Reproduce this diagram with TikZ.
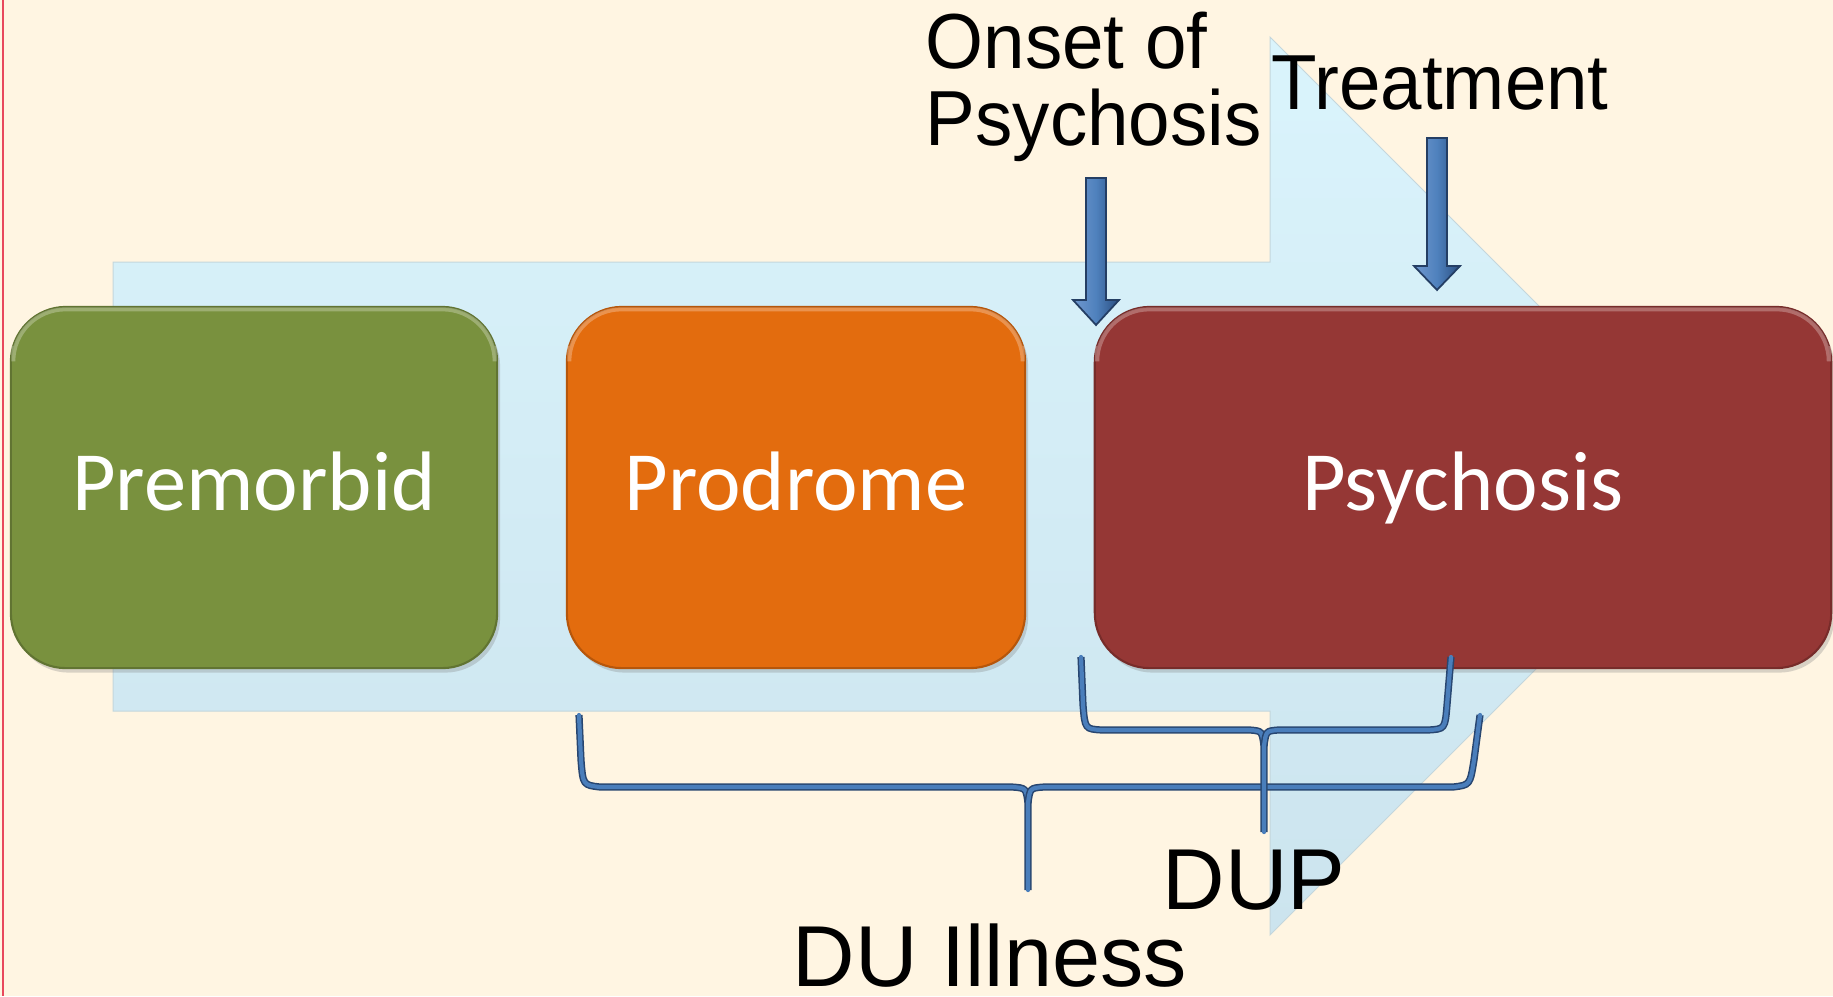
\documentclass[tikz,border=0pt]{standalone}
\usepackage{fontspec}
\newfontfamily\calfont{Carlito}
\newfontfamily\arialfont[FakeStretch=0.955]{Liberation Sans}
\newfontfamily\arialwide{Liberation Sans}
\usetikzlibrary{shadows,calc}
\definecolor{bgcream}{RGB}{255,245,226}
\definecolor{leftred}{RGB}{232,72,92}
\definecolor{skytop}{RGB}{218,244,252}
\definecolor{skybot}{RGB}{204,228,238}
\definecolor{skyedge}{RGB}{196,214,220}
\definecolor{pmgreen}{RGB}{121,145,62}
\definecolor{pdorange}{RGB}{227,108,14}
\definecolor{psred}{RGB}{149,55,53}
\definecolor{arrowlight}{RGB}{112,152,206}
\definecolor{arrowmid}{RGB}{79,129,189}
\definecolor{arrowdark}{RGB}{42,78,128}
\definecolor{arrowedge}{RGB}{36,62,100}
\definecolor{braceblue}{RGB}{74,126,187}
\definecolor{bracedark}{RGB}{40,70,112}
\tikzset{
  phase/.style={rectangle, rounded corners=0.55cm, minimum height=3.61cm,
    text=white, font=\calfont\fontsize{24}{28}\selectfont,
    text height=13pt, text depth=0pt, inner sep=0pt, line width=0.6pt,
    drop shadow={opacity=0.3, shadow xshift=0.03cm, shadow yshift=-0.045cm}},
  gloss/.style={line width=0.04cm, rounded corners=0.52cm, opacity=0.45},
  blockdown/.style={draw=arrowedge, line width=0.5pt, left color=arrowlight,
    right color=arrowdark, middle color=arrowmid},
  brace/.style={line width=0.042cm, draw=braceblue, line cap=round, line join=round,
    preaction={draw=bracedark, line width=0.072cm}},
  lbl/.style={inner sep=0pt, text=black, font=\arialfont\fontsize{22.2}{22.2}\selectfont},
  lblbig/.style={inner sep=0pt, text=black, font=\arialwide\fontsize{24.6}{24.6}\selectfont}
}
\newcommand\downblock[4]{%
  \path[blockdown] (#1-10,#2) -- (#1+10,#2) -- (#1+10,#3) -- (#1+23,#3) -- (#1,#4)
    -- (#1-23,#3) -- (#1-10,#3) -- cycle;}
\newcommand\glossline[2]{%
  \draw[gloss, #2] ([xshift=0.035cm, yshift=-0.4cm]#1.north west)
    -- ([xshift=0.035cm, yshift=-0.035cm]#1.north west)
    -- ([xshift=-0.035cm, yshift=-0.035cm]#1.north east)
    -- ([xshift=-0.035cm, yshift=-0.4cm]#1.north east);}
\begin{document}
\begin{tikzpicture}[x=0.01cm, y=-0.01cm]
\useasboundingbox (0,0) rectangle (1833,996);
\fill[bgcream] (0,0) rectangle (1833,996);
\draw[leftred, line width=0.02cm] (3,0) -- (3,996);

% big background arrow
\path[draw=skyedge, line width=0.01cm, top color=skytop, bottom color=skybot]
  (113,262) -- (1270,262) -- (1270,37) -- (1719,486) -- (1270,935) -- (1270,711) -- (113,711) -- cycle;

% phases
\node[phase, fill=pmgreen, draw=pmgreen!80!black, minimum width=4.86cm] (pre) at (254,487.5) {Premorbid};
\node[phase, fill=pdorange, draw=pdorange!80!black, minimum width=4.58cm] (pro) at (796,487.5) {Prodrome};
\node[phase, fill=psred, draw=psred!80!black, minimum width=7.36cm] (psy) at (1463,487.5) {Psychosis};
\glossline{pre}{pmgreen!40!white}
\glossline{pro}{pdorange!40!white}
\glossline{psy}{psred!40!white}

% down block arrows
\downblock{1096}{178}{300}{325}
\downblock{1437}{138}{266}{290}

% braces
\draw[brace] (579,715) -- (581,760) .. controls (583,785) .. (600,787) -- (1012,787)
  .. controls (1026,788) .. (1028,803) -- (1028,890);
\draw[brace] (1028,803) .. controls (1030,788) .. (1044,787) -- (1453,787)
  .. controls (1470,785) .. (1474,760) -- (1480,715);
\draw[brace] (1081,657) -- (1083,705) .. controls (1085,729) .. (1102,730) -- (1250,730)
  .. controls (1262,731) .. (1264,746) -- (1264,832);
\draw[brace] (1264,746) .. controls (1266,731) .. (1278,730) -- (1428,730)
  .. controls (1445,729) .. (1447,705) -- (1451,657);

% labels
\node[lbl, anchor=base west] (onset) at (925,68)
  {\begin{tabular}[t]{@{}l@{}}Onset of\\[-0.7pt]Psychosis\end{tabular}};
\node[lbl, anchor=base west] (treat) at (1271,109) {Treatment};
\node[lblbig, anchor=base west] (dup) at (1162,909) {DUP};
\node[lblbig, anchor=base west] (duill) at (792,986) {DU Illness};
\end{tikzpicture}
\end{document}
